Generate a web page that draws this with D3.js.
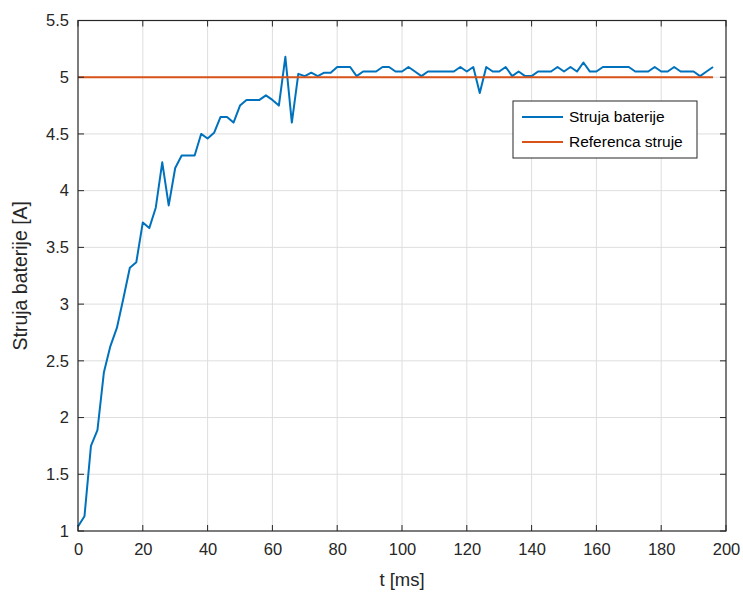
<!DOCTYPE html>
<html><head><meta charset="utf-8">
<script src="https://cdn.jsdelivr.net/npm/d3@7"></script>
<style>
html,body{margin:0;padding:0;background:#fff;}
svg text{font-family:"Liberation Sans",Arial,Helvetica,sans-serif;}
</style></head>
<body><svg id="c" width="743" height="596"></svg>
<script>
const tStep = 2;
const struja = [
1.04,1.13,1.75,1.89,2.40,2.63,2.79,3.05,3.32,3.37,
3.72,3.67,3.85,4.25,3.87,4.20,4.31,4.31,4.31,4.50,
4.46,4.51,4.65,4.65,4.60,4.75,4.80,4.80,4.80,4.84,
4.80,4.75,5.18,4.60,5.03,5.01,5.04,5.01,5.04,5.04,
5.09,5.09,5.09,5.01,5.05,5.05,5.05,5.09,5.09,5.05,
5.05,5.09,5.05,5.01,5.05,5.05,5.05,5.05,5.05,5.09,
5.05,5.09,4.86,5.09,5.05,5.05,5.09,5.01,5.05,5.01,
5.01,5.05,5.05,5.05,5.09,5.05,5.09,5.05,5.13,5.05,
5.05,5.09,5.09,5.09,5.09,5.09,5.05,5.05,5.05,5.09,
5.05,5.05,5.09,5.05,5.05,5.05,5.01,5.05,5.09
];
const tVals = struja.map((d,i)=>i*tStep);
const referenca = struja.map(()=>5);
const xTicks = [0,20,40,60,80,100,120,140,160,180,200];
const yTicks = [1,1.5,2,2.5,3,3.5,4,4.5,5,5.5];
const seriesNames = ["Struja baterije","Referenca struje"];
const colors = ["#0072BD","#D95319"];

const svg = d3.select("#c");
const L=78, R=726, T=20.5, B=531;
const x = d3.scaleLinear().domain([0,200]).range([L,R]);
const y = d3.scaleLinear().domain([1,5.5]).range([B,T]);
const axisCol="#262626";

// grid
const g = svg.append("g");
g.selectAll(".gx").data(xTicks.slice(1,-1)).enter().append("line")
 .attr("x1",d=>x(d)).attr("x2",d=>x(d)).attr("y1",T).attr("y2",B)
 .attr("stroke","#dedede").attr("stroke-width",1);
g.selectAll(".gy").data(yTicks.slice(1,-1)).enter().append("line")
 .attr("y1",d=>y(d)).attr("y2",d=>y(d)).attr("x1",L).attr("x2",R)
 .attr("stroke","#dedede").attr("stroke-width",1);

// lines
const line = d3.line().x((d,i)=>x(tVals[i])).y(d=>y(d));
svg.append("path").datum(struja).attr("d",line).attr("fill","none")
 .attr("stroke",colors[0]).attr("stroke-width",2).attr("stroke-linejoin","round");
svg.append("path").datum(referenca).attr("d",line).attr("fill","none")
 .attr("stroke",colors[1]).attr("stroke-width",2);

// axes
const tl=6;
const xb = d3.axisBottom(x).tickValues(xTicks).tickSize(0).tickPadding(12).tickFormat(d3.format("d"));
const yl = d3.axisLeft(y).tickValues(yTicks).tickSize(0).tickPadding(9).tickFormat(d=>String(d));
const ax = svg.append("g").attr("transform",`translate(0,${B})`).call(xb);
const ay = svg.append("g").attr("transform",`translate(${L},0)`).call(yl);
[ax,ay].forEach(a=>{a.select(".domain").remove();
 a.selectAll("text").attr("fill",axisCol).style("font-size","16.5px").style("font-family",'"Liberation Sans",Arial,sans-serif');});
// tick marks inward, all four sides
const tk = svg.append("g").attr("stroke",axisCol).attr("stroke-width",1);
xTicks.forEach(d=>{
 tk.append("line").attr("x1",x(d)).attr("x2",x(d)).attr("y1",B).attr("y2",B-tl);
 tk.append("line").attr("x1",x(d)).attr("x2",x(d)).attr("y1",T).attr("y2",T+tl);
});
yTicks.forEach(d=>{
 tk.append("line").attr("y1",y(d)).attr("y2",y(d)).attr("x1",L).attr("x2",L+tl);
 tk.append("line").attr("y1",y(d)).attr("y2",y(d)).attr("x1",R).attr("x2",R-tl);
});
svg.append("rect").attr("x",L).attr("y",T).attr("width",R-L).attr("height",B-T)
 .attr("fill","none").attr("stroke",axisCol).attr("stroke-width",1.2);

// labels
svg.append("text").attr("x",(L+R)/2).attr("y",586).attr("text-anchor","middle")
 .attr("fill",axisCol).style("font-size","18.5px").text("t [ms]");
svg.append("text").attr("transform",`translate(27,${(T+B)/2}) rotate(-90)`).attr("text-anchor","middle")
 .attr("fill",axisCol).style("font-size","19.5px").text("Struja baterije [A]");

// legend
const lg = svg.append("g");
const lx=513, ly=101, lw=184, lh=57;
lg.append("rect").attr("x",lx).attr("y",ly).attr("width",lw).attr("height",lh)
 .attr("fill","#fff").attr("stroke",axisCol).attr("stroke-width",1);
seriesNames.forEach((n,i)=>{
 const yy = ly+16+i*25;
 lg.append("line").attr("x1",lx+9).attr("x2",lx+50).attr("y1",yy).attr("y2",yy)
  .attr("stroke",colors[i]).attr("stroke-width",2);
 lg.append("text").attr("x",lx+56).attr("y",yy).attr("dy","0.35em")
  .attr("fill","#000").style("font-size","15.5px").text(n);
});
</script></body></html>
